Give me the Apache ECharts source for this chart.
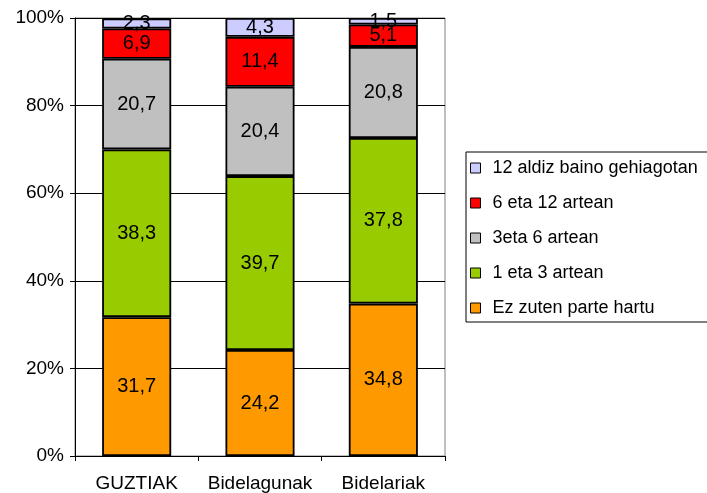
<!DOCTYPE html>
<html>
<head>
<meta charset="utf-8">
<script src="https://cdn.jsdelivr.net/npm/echarts@6/dist/echarts.min.js"></script>
<style>
  html, body { margin: 0; padding: 0; background: #fff; }
  #chart { width: 707px; height: 493px; }
</style>
</head>
<body>
<div id="chart"></div>
<script>
const categories = ['GUZTIAK', 'Bidelagunak', 'Bidelariak']
const ezParte = [31.7, 24.2, 34.8]
const bat3 = [38.3, 39.7, 37.8]
const hiru6 = [20.7, 20.4, 20.8]
const sei12 = [6.9, 11.4, 5.1]
const hamabiGehiago = [2.3, 4.3, 1.5]
const yTicks = [0, 20, 40, 60, 80, 100]

const seriesList = [
  { name: 'Ez zuten parte hartu', data: ezParte, color: '#FF9900' },
  { name: '1 eta 3 artean', data: bat3, color: '#99CC00' },
  { name: '3eta 6 artean', data: hiru6, color: '#C0C0C0' },
  { name: '6 eta 12 artean', data: sei12, color: '#FF0000' },
  { name: '12 aldiz baino gehiagotan', data: hamabiGehiago, color: '#CCCCFF' }
]

const font = 'Liberation Sans, Arial, sans-serif'
const chart = echarts.init(document.getElementById('chart'))

chart.setOption({
  animation: false,
  grid: {
    left: 75,
    right: 262,
    top: 18,
    bottom: 37,
    show: true,
    borderColor: '#808080',
    borderWidth: 1
  },
  legend: {
    orient: 'vertical',
    left: 466,
    top: 152,
    padding: [7, 60, 5, 4],
    itemGap: 17,
    itemWidth: 10,
    itemHeight: 10,
    borderColor: '#000',
    borderWidth: 1,
    icon: 'rect',
    itemStyle: { borderColor: '#000', borderWidth: 1 },
    textStyle: { fontFamily: font, fontSize: 18, color: '#000', padding: [0, 0, 0, 7] },
    data: seriesList.map(s => s.name).reverse()
  },
  xAxis: {
    type: 'category',
    data: categories,
    axisLine: { lineStyle: { color: '#000' } },
    axisTick: { show: true, length: 5, lineStyle: { color: '#000' } },
    axisLabel: { fontFamily: font, fontSize: 19, color: '#000', margin: 18, interval: 0, hideOverlap: false }
  },
  yAxis: {
    type: 'value',
    min: 0,
    max: 100,
    interval: 20,
    axisLine: { show: true, lineStyle: { color: '#000' } },
    axisTick: { show: true, length: 5, lineStyle: { color: '#000' } },
    axisLabel: {
      fontFamily: font,
      fontSize: 19,
      color: '#000',
      margin: 11,
      formatter: v => yTicks.includes(v) ? v + '%' : ''
    },
    splitLine: { lineStyle: { color: '#000', width: 1 } }
  },
  series: seriesList.map(s => ({
    name: s.name,
    type: 'bar',
    stack: 'total',
    barWidth: '56%',
    data: s.data,
    itemStyle: { color: s.color, borderColor: '#000', borderWidth: 1.8 },
    label: {
      show: true,
      position: 'inside',
      fontFamily: font,
      fontSize: 20,
      color: '#000',
      formatter: p => String(p.value).replace('.', ',')
    }
  }))
})
</script>
</body>
</html>
